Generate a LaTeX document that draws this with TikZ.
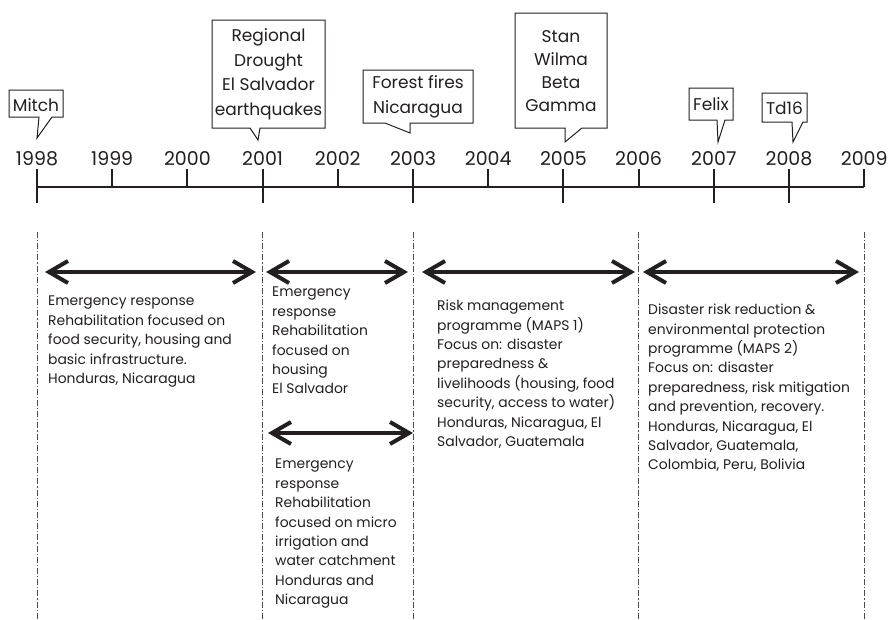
\documentclass[tikz,border=0pt]{standalone}
\usepackage{fontspec}
\setmainfont{Poppins}
\usetikzlibrary{arrows.meta}
\definecolor{ink}{HTML}{231F20}
\begin{document}
\begin{tikzpicture}[x=1pt,y=-1pt,
  axisline/.style={line width=2pt, draw=ink},
  divider/.style={line width=0.7pt, draw=ink!80, dash pattern=on 6pt off 2pt on 1.2pt off 2pt},
  span/.style={line width=3.2pt, draw=ink,
    {Straight Barb[length=19pt,width=22pt,line width=4pt]}-{Straight Barb[length=19pt,width=22pt,line width=4pt]}},
  yearlbl/.style={font=\fontsize{19}{22}\selectfont, text=ink, inner sep=0pt, anchor=base},
  calltext/.style={font=\fontsize{17}{24.5}\selectfont, text=ink, inner sep=0pt, align=center},
  callout/.style={line width=1pt, draw=ink, fill=white, line join=miter},
  body/.style={font=\fontsize{13.9}{19.4}\selectfont, text=ink, inner sep=0pt, align=left, anchor=north west}
]
\useasboundingbox (0,0) rectangle (889,619);
\fill[white] (0,0) rectangle (889,619);

% ---- axis
\coordinate (y1998) at (37,187);
\coordinate (y2009) at (864.2,187);
\draw[axisline] (y1998) -- (y2009);
\foreach \yr/\k in {1998/0,1999/1,2000/2,2001/3,2002/4,2003/5,2004/6,2005/7,2006/8,2007/9,2008/10,2009/11}{
  \node[yearlbl] (lbl\yr) at ({37+75.2*\k},165) {\yr};
}
\foreach \k in {0,3,5,7,9,10}{
  \draw[axisline] ({37+75.2*\k},169) -- ({37+75.2*\k},203);
}
\foreach \k in {1,2,4,6,8,11}{
  \draw[axisline] ({37+75.2*\k},169) -- ({37+75.2*\k},187);
}

% ---- dividers
\foreach \k/\n in {0/a,3/b,5/c,8/d,11/e}{
  \coordinate (dtop\n) at ({37+75.2*\k},232);
  \coordinate (dbot\n) at ({37+75.2*\k},619);
  \draw[divider] (dtop\n) -- (dbot\n);
}

% ---- callouts
% Mitch
\draw[callout] (9,90) -- (63,90) -- (63,117) -- (52,117) -- (37,138) -- (39,117) -- (9,117) -- cycle;
\node[calltext] (cMitch) at (36,105) {Mitch};
% Regional
\draw[callout] (212,20) -- (325,20) -- (325,128) -- (260,128) -- (258,140) -- (250,128) -- (212,128) -- cycle;
\node[calltext] (cRegional) at (268.5,74) {Regional\\Drought\\El Salvador\\earthquakes};
% Forest fires
\draw[callout] (363,70) -- (473,70) -- (473,123) -- (410,123) -- (410,133) -- (385,123) -- (363,123) -- cycle;
\node[calltext] (cForest) at (418,97) {Forest fires\\Nicaragua};
% Stan
\draw[callout] (515,13) -- (607,13) -- (607,128) -- (582,128) -- (565,142) -- (565,128) -- (515,128) -- cycle;
\node[calltext, font=\fontsize{17}{23}\selectfont] (cStan) at (561,71) {Stan\\Wilma\\Beta\\Gamma};
% Felix
\draw[callout] (689,88) -- (733,88) -- (733,120) -- (725,120) -- (718,142) -- (717,120) -- (689,120) -- cycle;
\node[calltext] (cFelix) at (711,104) {Felix};
% Td16
\draw[callout] (762,93) -- (807,93) -- (807,122) -- (803,122) -- (793,142) -- (792,122) -- (762,122) -- cycle;
\node[calltext] (cTd) at (784.5,108) {Td16};

% ---- spans
\coordinate (s1l) at (45,272);  \coordinate (s1r) at (256,272);
\coordinate (s2l) at (266,272); \coordinate (s2r) at (408,272);
\coordinate (s3l) at (422,272); \coordinate (s3r) at (635,272);
\coordinate (s4l) at (643,272); \coordinate (s4r) at (859,272);
\coordinate (s5l) at (268,433); \coordinate (s5r) at (413,433);
\draw[span] (s1l) -- (s1r);
\draw[span] (s2l) -- (s2r);
\draw[span] (s3l) -- (s3r);
\draw[span] (s4l) -- (s4r);
\draw[span] (s5l) -- (s5r);

% ---- descriptions
\node[body] (t1) at (48,296) {Emergency response\\Rehabilitation focused on\\food security, housing and\\basic infrastructure.\\Honduras, Nicaragua};
\node[body] (t2) at (272,287) {Emergency\\response\\Rehabilitation\\focused on\\housing\\El Salvador};
\node[body] (t3) at (275,459) {Emergency\\response\\Rehabilitation\\focused on micro\\irrigation and\\water catchment\\Honduras and\\Nicaragua};
\node[body] (t4) at (437,300) {Risk management\\programme (MAPS 1)\\Focus on: disaster\\preparedness \&\\livelihoods (housing, food\\security, access to water)\\Honduras, Nicaragua, El\\Salvador, Guatemala};
\node[body] (t5) at (648,304) {Disaster risk reduction \&\\environmental protection\\programme (MAPS 2)\\Focus on: disaster\\preparedness, risk mitigation\\and prevention, recovery.\\Honduras, Nicaragua, El\\Salvador, Guatemala,\\Colombia, Peru, Bolivia};
\end{tikzpicture}
\end{document}
